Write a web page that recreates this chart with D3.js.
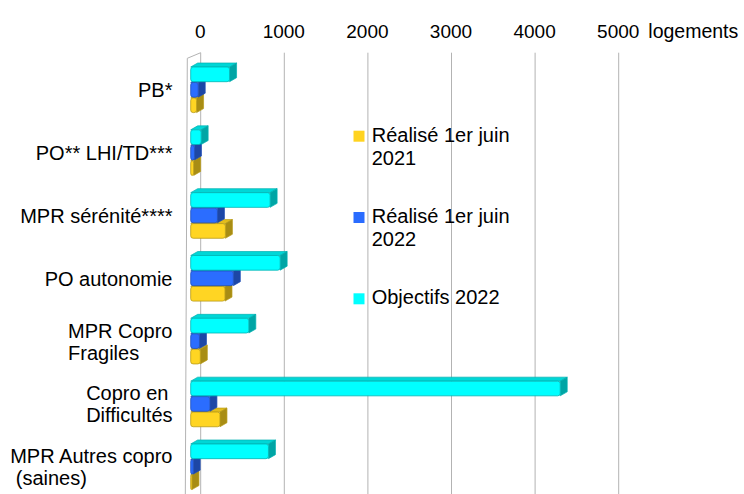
<!DOCTYPE html>
<html>
<head>
<meta charset="utf-8">
<script src="https://cdn.jsdelivr.net/npm/d3@7"></script>
<style>
  html, body { margin: 0; padding: 0; background: #fff; }
  svg { display: block; font-family: "Liberation Sans", Arial, sans-serif; }
</style>
</head>
<body>
<svg id="chart" width="744" height="494"></svg>
<script>
// ---- data ----
const categories = ["PB*", "PO** LHI/TD***", "MPR sérénité****", "PO autonomie",
  "MPR Copro\nFragiles", "Copro en\nDifficultés", "MPR Autres copro\n\u00a0(saines)"];
const realise2021 = [70, 35, 415, 410, 115, 350, 15];
const realise2022 = [90, 45, 320, 510, 105, 230, 30];
const objectifs2022 = [465, 125, 950, 1070, 695, 4420, 930];
const seriesNames = ["Réalisé 1er juin\n2021", "Réalisé 1er juin\n2022", "Objectifs 2022"];
const xTicks = [0, 1000, 2000, 3000, 4000, 5000];
const unitLabel = "logements";

// ---- styles ----
const seriesStyle = [
  { front: "#ffd523", top: "#e3bd1c", side: "#a88d14", stroke: "#b89b17", legend: "#ffd320" },
  { front: "#2b6dff", top: "#2358d0", side: "#1d47a6", stroke: "#1f4fb8", legend: "#2a6cff" },
  { front: "#00ffff", top: "#00d6d6", side: "#00a5a5", stroke: "#00b2b2", legend: "#00ffff" }
];
const series = [realise2021, realise2022, objectifs2022];

const svg = d3.select("#chart");
const FS_TICK = 19, FS = 20;
const x = d3.scaleLinear().domain([0, 5000]).range([200.7, 618.7]); // back wall plane
const BAR_SHIFT = -10;   // bar front plane offset from back wall
const DX = 7, DY = 4;    // bar depth
const WALL_DX = 13.4, WALL_DY = 5.6;
const y = d3.scaleBand().domain(categories).range([58.4, 498.2]);
// order top->bottom inside band: objectifs, 2022, 2021
const ySub = d3.scaleBand().domain([2, 1, 0]).range([-22.8, 22.8]).paddingInner(0.05);

const gridTop = 52.7, gridBottom = 500;

// wall / grid
const grid = svg.append("g");
grid.selectAll("line.grid").data(xTicks).enter().append("line")
  .attr("x1", d => x(d)).attr("x2", d => x(d))
  .attr("y1", gridTop).attr("y2", gridBottom)
  .attr("stroke", "#b3b3b3").attr("stroke-width", 1);
grid.append("path")
  .attr("d", `M${x(0)},${gridTop} L${x(0) - WALL_DX},${gridTop + WALL_DY} L${x(0) - WALL_DX - 2},${gridBottom}`)
  .attr("fill", "none").attr("stroke", "#b3b3b3").attr("stroke-width", 1);

// top axis
const axis = d3.axisTop(x).tickValues(xTicks).tickSize(0).tickPadding(0).tickFormat(d3.format("d"));
const ag = svg.append("g").attr("transform", "translate(-1,37.7)").call(axis);
ag.select(".domain").remove();
ag.selectAll("text").attr("font-size", FS_TICK).attr("fill", "#000")
  .attr("font-family", "Liberation Sans, Arial, sans-serif").attr("dy", 0);
svg.append("text").attr("x", 648.3).attr("y", 37.7).attr("font-size", 19.5).attr("fill", "#000").text(unitLabel);

// bars
const barsG = svg.append("g");
function bar3d(g, v, yc, si) {
  const st = seriesStyle[si];
  const x0 = x(0) + BAR_SHIFT, x1 = x(v) + BAR_SHIFT;
  const y0 = yc + ySub(si), y1 = y0 + ySub.bandwidth();
  const r = Math.min(2.5, (x1 - x0) / 2);
  g.append("path")
    .attr("d", `M${x0},${y0} L${x0 + DX},${y0 - DY} L${x1 + DX},${y0 - DY} L${x1},${y0} Z`)
    .attr("fill", st.top).attr("stroke", st.stroke).attr("stroke-width", 0.7).attr("stroke-linejoin", "round");
  g.append("path")
    .attr("d", `M${x1},${y0} L${x1 + DX},${y0 - DY} L${x1 + DX},${y1 - DY} L${x1},${y1} Z`)
    .attr("fill", st.side).attr("stroke", st.stroke).attr("stroke-width", 0.7).attr("stroke-linejoin", "round");
  g.append("rect")
    .attr("x", x0).attr("y", y0).attr("width", Math.max(0.5, x1 - x0)).attr("height", y1 - y0)
    .attr("rx", r).attr("ry", 2.5)
    .attr("fill", st.front).attr("stroke", st.stroke).attr("stroke-width", 0.8);
}
categories.forEach((c, i) => {
  const yc = y(c) + y.bandwidth() / 2;
  const g = barsG.append("g");
  [0, 1, 2].forEach(si => bar3d(g, series[si][i], yc, si));
});

// category labels (block right-aligned, lines left-aligned)
const labG = svg.append("g");
const LABEL_RIGHT = 172.5, LINE_H = 22;
categories.forEach(c => {
  const yc = y(c) + y.bandwidth() / 2;
  const lines = c.split("\n");
  const t = labG.append("text").attr("font-size", FS).attr("fill", "#000");
  const base = yc + 7.4 - (lines.length - 1) * LINE_H / 2;
  lines.forEach((ln, k) => {
    t.append("tspan").attr("y", base + k * LINE_H).text(ln);
  });
  let maxW = 0;
  t.selectAll("tspan").each(function () { maxW = Math.max(maxW, this.getComputedTextLength()); });
  t.selectAll("tspan").attr("x", LABEL_RIGHT - maxW);
});

// legend
const legG = svg.append("g");
const legBase = [141.7, 223.0, 304.3];
seriesNames.forEach((name, si) => {
  legG.append("rect").attr("x", 353.5).attr("y", legBase[si] - 11).attr("width", 11).attr("height", 11)
    .attr("fill", seriesStyle[si].legend);
  const t = legG.append("text").attr("font-size", FS).attr("fill", "#000");
  name.split("\n").forEach((ln, k) => {
    t.append("tspan").attr("x", 371.7).attr("y", legBase[si] + k * 23.3).text(ln);
  });
});
</script>
</body>
</html>
